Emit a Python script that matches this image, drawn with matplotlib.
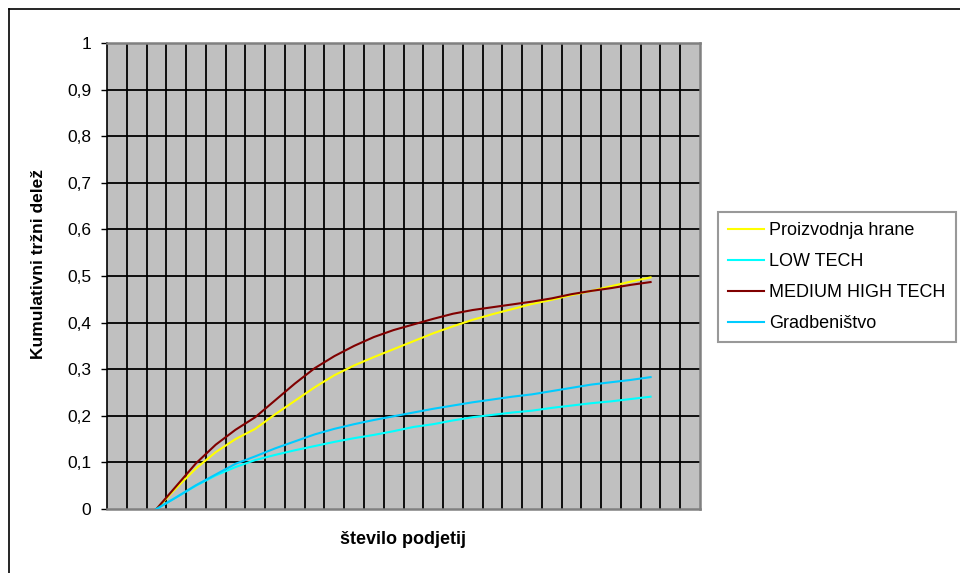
import numpy as np
import matplotlib
matplotlib.use("Agg")
import matplotlib.pyplot as plt
from matplotlib.lines import Line2D

plt.rcParams['font.family'] = ['Liberation Sans', 'DejaVu Sans']

# ---- data (30 categories; NaN = no value) ----
n_categories = 30
nan = np.nan
proizvodnja_hrane = [nan, nan, 0.0, 0.045, 0.087, 0.122, 0.150, 0.172, 0.203, 0.232, 0.261, 0.287,
                     0.308, 0.326, 0.343, 0.360, 0.377, 0.392, 0.406, 0.418, 0.429, 0.440,
                     0.449, 0.459, 0.468, 0.478, 0.488, 0.497, nan, nan]
low_tech = [nan, nan, 0.0, 0.025, 0.050, 0.072, 0.090, 0.105, 0.116, 0.126, 0.135, 0.144,
            0.152, 0.159, 0.167, 0.176, 0.182, 0.190, 0.197, 0.202, 0.207, 0.211,
            0.217, 0.222, 0.227, 0.231, 0.236, 0.241, nan, nan]
medium_high_tech = [nan, nan, 0.0, 0.049, 0.098, 0.138, 0.170, 0.197, 0.233, 0.269, 0.302, 0.328,
                    0.350, 0.369, 0.384, 0.396, 0.408, 0.419, 0.427, 0.433, 0.439, 0.445,
                    0.452, 0.461, 0.468, 0.474, 0.481, 0.487, nan, nan]
gradbenistvo = [nan, nan, 0.0, 0.025, 0.051, 0.074, 0.097, 0.113, 0.130, 0.145, 0.160, 0.172,
                0.182, 0.191, 0.199, 0.207, 0.215, 0.222, 0.229, 0.235, 0.241, 0.246,
                0.253, 0.260, 0.267, 0.272, 0.277, 0.283, nan, nan]

series_names = ["Proizvodnja hrane", "LOW TECH", "MEDIUM HIGH TECH", "Gradbeništvo"]
series_values = [proizvodnja_hrane, low_tech, medium_high_tech, gradbenistvo]
series_colors = ["#FFFF00", "#00FFFF", "#800000", "#00CCFF"]

y_ticks = [0, 0.1, 0.2, 0.3, 0.4, 0.5, 0.6, 0.7, 0.8, 0.9, 1.0]
y_tick_labels = ["0", "0,1", "0,2", "0,3", "0,4", "0,5", "0,6", "0,7", "0,8", "0,9", "1"]

W, H = 960, 573
fig = plt.figure(figsize=(W / 100, H / 100), dpi=100)
fig.patch.set_facecolor("white")

ax = fig.add_axes([107 / W, (H - 509) / H, 593 / W, 466 / H])
ax.set_facecolor("#C0C0C0")

x = np.arange(n_categories) + 0.5
for name, vals, col in zip(series_names, series_values, series_colors):
    ax.plot(x, np.array(vals, dtype=float), color=col, lw=1.5, label=name, zorder=3)

ax.set_xlim(0, n_categories)
ax.set_ylim(0, 1)

# gridlines
for k in range(1, n_categories):
    ax.axvline(k, color="black", lw=1.3, zorder=1)
for t in y_ticks[1:-1]:
    ax.axhline(t, color="black", lw=1.3, zorder=1)

ax.set_xticks([])
ax.set_yticks(y_ticks)
ax.set_yticklabels(y_tick_labels)
ax.tick_params(axis="y", direction="out", length=4.5, width=1, color="black",
               pad=7, labelsize=12.5)

for side in ["top", "right", "bottom"]:
    ax.spines[side].set_color("#808080")
    ax.spines[side].set_linewidth(1.8)
ax.spines["left"].set_color("black")
ax.spines["left"].set_linewidth(1.2)

fig.text(38.5 / W, 1 - 264 / H, "Kumulativni tržni delež", rotation=90,
         ha="center", va="center", fontsize=12.5, fontweight="bold")
fig.text(403.5 / W, 1 - 540 / H, "število podjetij", ha="center", va="center",
         fontsize=13, fontweight="bold")

leg = fig.legend(loc="upper left", bbox_to_anchor=(718 / W, 1 - 212 / H),
                 frameon=True, fancybox=False, fontsize=13, handlelength=2.0,
                 handletextpad=0.3, labelspacing=0.78, borderpad=0.55,
                 borderaxespad=0)
leg.get_frame().set_edgecolor("#808080")
leg.get_frame().set_linewidth(1.5)
for line in leg.get_lines():
    line.set_linewidth(1.5)

# outer chart frame (left and top edges)
fig.add_artist(Line2D([8.5 / W, 8.5 / W], [0, 1 - 8.5 / H], color="black", lw=1.2,
                      transform=fig.transFigure))
fig.add_artist(Line2D([8.5 / W, 1], [1 - 8.5 / H, 1 - 8.5 / H], color="black", lw=1.2,
                      transform=fig.transFigure))

fig.savefig("out.png", dpi=100)
